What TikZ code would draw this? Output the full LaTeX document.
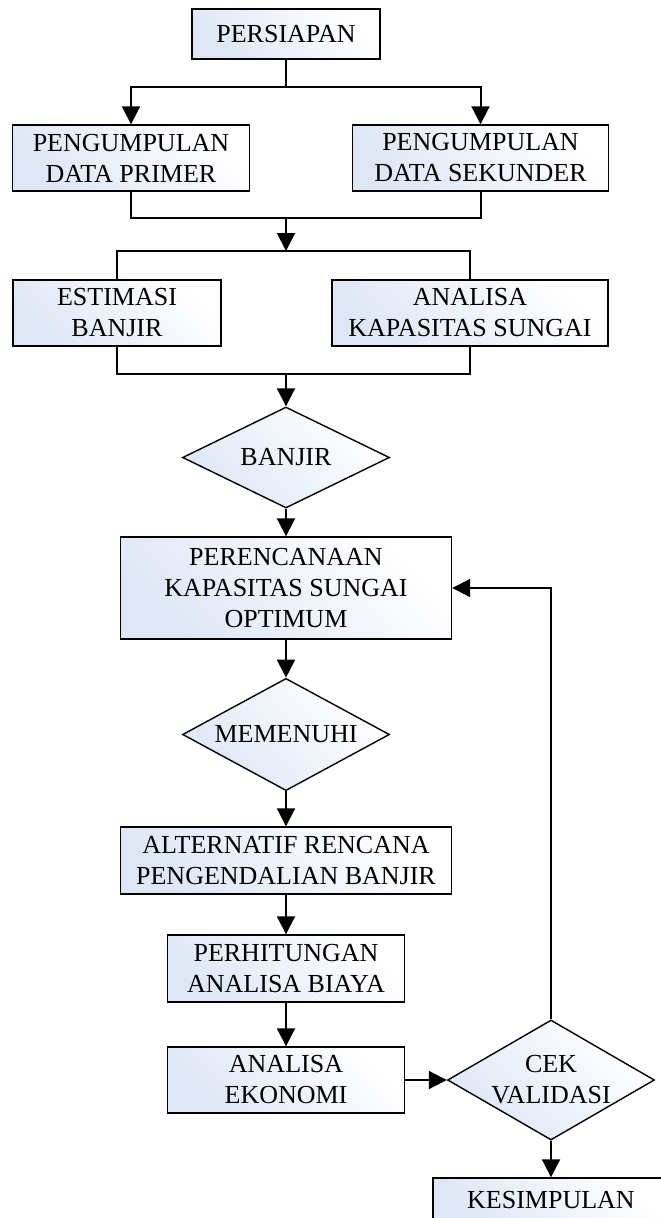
\documentclass[tikz,border=0pt]{standalone}
\usepackage{fontspec}
\setmainfont{Liberation Serif}
\usetikzlibrary{shapes.geometric,arrows.meta}
\definecolor{isi}{RGB}{222,230,245}

\begin{document}
\begin{tikzpicture}[
    x=1pt, y=-1pt,
    every node/.style={font=\fontsize{26}{31}\selectfont, align=center},
    kotak/.style={rectangle, draw, line width=1.4pt, inner sep=0pt, top color=isi, bottom color=white, shading angle=135},
    belah/.style={diamond, draw, line width=1.4pt, inner sep=-12pt, minimum width=207pt, minimum height=101pt, top color=isi, bottom color=white, shading angle=135},
    garis/.style={draw, line width=2pt},
    panah/.style={garis, -{Triangle[width=18pt,length=18pt]}}
  ]
    \useasboundingbox (0,0) rectangle (661,1218);

    % Kotak dan belah ketupat
    \node[kotak, minimum width=188pt, minimum height=50pt] (persiapan) at (286,34) {PERSIAPAN};
    \node[kotak, minimum width=237pt, minimum height=66pt] (primer) at (131,158) {PENGUMPULAN\\DATA PRIMER};
    \node[kotak, minimum width=256pt, minimum height=66pt] (sekunder) at (480.5,158) {PENGUMPULAN\\DATA SEKUNDER};
    \node[kotak, minimum width=208pt, minimum height=66pt] (estimasi) at (117,313) {ESTIMASI\\BANJIR};
    \node[kotak, minimum width=276pt, minimum height=66pt] (kapasitas) at (470,313) {ANALISA\\KAPASITAS SUNGAI};
    \node[belah] (banjir) at (286,457.5) {BANJIR};
    \node[kotak, minimum width=331pt, minimum height=102pt] (rencana) at (286,588) {PERENCANAAN\\KAPASITAS SUNGAI\\OPTIMUM};
    \node[belah] (memenuhi) at (286,734.5) {MEMENUHI};
    \node[kotak, minimum width=331pt, minimum height=67pt] (alternatif) at (286,860.5) {ALTERNATIF RENCANA\\PENGENDALIAN BANJIR};
    \node[kotak, minimum width=237pt, minimum height=67pt] (biaya) at (286,968.5) {PERHITUNGAN\\ANALISA BIAYA};
    \node[kotak, minimum width=237pt, minimum height=66pt] (ekonomi) at (286,1080) {ANALISA\\EKONOMI};
    \node[belah] (cek) at (551,1080) {CEK\\VALIDASI};
    \node[kotak, minimum width=236pt, minimum height=44pt] (simpulan) at (551,1200) {KESIMPULAN};

    % Titik cabang
    \coordinate (pisah1) at (286,87);
    \coordinate (gabung1) at (286,218);
    \coordinate (pisah2) at (286,251);
    \coordinate (gabung2) at (286,374);

    % Garis penghubung
    \draw[garis] (persiapan) -- (pisah1);
    \draw[panah] (pisah1) -| (primer);
    \draw[panah] (pisah1) -| (sekunder);
    \draw[garis] (primer) |- (gabung1) -| (sekunder);
    \draw[panah] (gabung1) -- (pisah2);
    \draw[garis] (estimasi) |- (pisah2) -| (kapasitas);
    \draw[garis] (estimasi) |- (gabung2) -| (kapasitas);
    \draw[panah] (gabung2) -- (banjir);
    \draw[panah] (banjir) -- (rencana);
    \draw[panah] (rencana) -- (memenuhi);
    \draw[panah] (memenuhi) -- (alternatif);
    \draw[panah] (alternatif) -- (biaya);
    \draw[panah] (biaya) -- (ekonomi);
    \draw[panah] (ekonomi) -- (cek);
    \draw[panah] (cek) -- (simpulan);
    \draw[panah] (cek) |- (rencana);
  \end{tikzpicture}
\end{document}
